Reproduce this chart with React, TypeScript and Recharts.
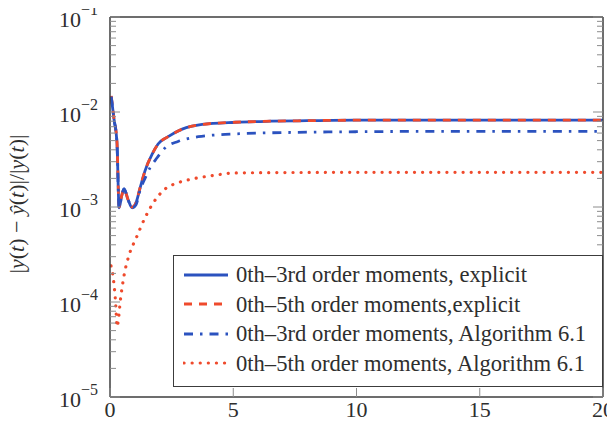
import React from 'react';
import { LineChart, Line, XAxis, YAxis, Legend } from 'recharts';

const FONT = '"Liberation Serif", "Times New Roman", Times, serif';
const BLUE = '#2b52bf';
const RED = '#ef4a2c';
const TEXT = '#2e2e2e';
const TICK = '#8c8c8c';
const BOX = '#3c3c3c';

// ---- tick labels ----
const X_TICKS = [0, 5, 10, 15, 20];
const Y_MAJOR = [1e-5, 1e-4, 1e-3, 1e-2, 1e-1];
const Y_MINOR_MULT = [2, 3, 4, 5, 6, 7, 8, 9];
const Y_TICKS = [
  ...Y_MAJOR,
  ...Y_MAJOR.slice(0, -1).flatMap((d) => Y_MINOR_MULT.map((m) => m * d)),
].sort((a, b) => a - b);

// ---- series names ----
const NAMES = [
  '0th\u20133rd order moments, explicit',
  '0th\u20135th order moments,explicit',
  '0th\u20133rd order moments, Algorithm 6.1',
  '0th\u20135th order moments, Algorithm 6.1',
];

// ---- series values ----
const T_EXPL3 = [0.05, 0.16, 0.28, 0.37, 0.47, 0.57, 0.73, 0.9, 1.05, 1.22, 1.42, 1.71, 1.95, 2.36, 2.93, 3.74, 5.08, 6.5, 8, 10, 13, 16, 20];
const V_EXPL3 = [0.0145, 0.0085, 0.0049, 0.00098, 0.0013, 0.00155, 0.0012, 0.00098, 0.0011, 0.00158, 0.0024, 0.0036, 0.0046, 0.0055, 0.0066, 0.0074, 0.0078, 0.008, 0.0081, 0.0082, 0.0082, 0.0082, 0.0082];

const T_EXPL5 = [0.05, 0.16, 0.28, 0.37, 0.47, 0.57, 0.73, 0.9, 1.05, 1.22, 1.42, 1.71, 1.95, 2.36, 2.93, 3.74, 5.08, 6.5, 8, 10, 13, 16, 20];
const V_EXPL5 = [0.0148, 0.0086, 0.005, 0.001, 0.0013, 0.00156, 0.0012, 0.001, 0.0011, 0.0016, 0.0024, 0.0036, 0.0046, 0.0055, 0.0066, 0.0074, 0.0078, 0.008, 0.0081, 0.0082, 0.0082, 0.0082, 0.0082];

const T_ALG3 = [0.05, 0.16, 0.28, 0.37, 0.47, 0.57, 0.73, 0.9, 1.05, 1.22, 1.42, 1.63, 1.91, 2.24, 2.76, 3.58, 4.67, 6, 7.5, 10, 13, 16, 20];
const V_ALG3 = [0.0145, 0.0085, 0.0049, 0.00098, 0.0013, 0.00155, 0.0012, 0.00098, 0.00105, 0.0015, 0.002, 0.0026, 0.0033, 0.0042, 0.0049, 0.0055, 0.0058, 0.006, 0.0061, 0.0062, 0.00625, 0.00625, 0.00625];

const T_ALG5 = [0.04, 0.16, 0.24, 0.28, 0.45, 0.57, 0.77, 1.06, 1.42, 1.75, 2.24, 2.76, 3.45, 4.27, 5, 6.5, 8, 10, 13, 16, 20];
const V_ALG5 = [2.4e-4, 1.55e-4, 8.7e-5, 5.5e-5, 1.2e-4, 1.9e-4, 3.1e-4, 4.7e-4, 7.7e-4, 1.1e-3, 1.55e-3, 1.8e-3, 2.0e-3, 2.16e-3, 2.28e-3, 2.3e-3, 2.31e-3, 2.32e-3, 2.32e-3, 2.32e-3, 2.32e-3];

const toRows = (ts: number[], vs: number[]) => ts.map((t, i) => ({ t, v: vs[i] }));

const SERIES = [
  { name: NAMES[0], data: toRows(T_EXPL3, V_EXPL3), color: BLUE, dash: undefined as string | undefined, width: 2.8, cap: 'butt' },
  { name: NAMES[1], data: toRows(T_EXPL5, V_EXPL5), color: RED, dash: '8 7', width: 2.8, cap: 'butt' },
  { name: NAMES[2], data: toRows(T_ALG3, V_ALG3), color: BLUE, dash: '9 7 2.5 7', width: 2.8, cap: 'butt' },
  { name: NAMES[3], data: toRows(T_ALG5, V_ALG5), color: RED, dash: '0.1 8', width: 3.2, cap: 'round' },
];

const isMajor = (v: number) => Math.abs(Math.log10(v) - Math.round(Math.log10(v))) < 1e-9;

const LeftTick = (props: any) => {
  const { x, y, payload } = props;
  const v = payload.value;
  const major = isMajor(v);
  return (
    <g>
      <line x1={x} x2={x + (major ? 10 : 6)} y1={y} y2={y} stroke={TICK} strokeWidth={1} />
      {major && (
        <text x={x - 12} y={y + 10} textAnchor="end" fontFamily={FONT} fontSize={22} fill={TEXT}>
          <tspan>10</tspan>
          <tspan dy={-12} fontSize={16}>{'\u2212' + Math.abs(Math.round(Math.log10(v)))}</tspan>
        </text>
      )}
    </g>
  );
};

const RightTick = (props: any) => {
  const { x, y, payload } = props;
  const major = isMajor(payload.value);
  return <line x1={x} x2={x - (major ? 10 : 6)} y1={y} y2={y} stroke={TICK} strokeWidth={1} />;
};

const BottomTick = (props: any) => {
  const { x, y, payload } = props;
  return (
    <g>
      <line x1={x} x2={x} y1={y} y2={y - 9} stroke={TICK} strokeWidth={1} />
      <text x={x} y={y + 20} textAnchor="middle" fontFamily={FONT} fontSize={22} fill={TEXT}>
        {String(payload.value)}
      </text>
    </g>
  );
};

const TopTick = (props: any) => {
  const { x, y } = props;
  return <line x1={x} x2={x} y1={y} y2={y + 9} stroke={TICK} strokeWidth={1} />;
};

const YLabel = (props: any) => {
  const vb = props.viewBox || { x: 0, y: 9, width: 102, height: 380 };
  const cx = vb.x + 16;
  const cy = vb.y + vb.height / 2 - 3;
  return (
    <text
      x={cx}
      y={cy}
      transform={`rotate(-90 ${cx} ${cy})`}
      textAnchor="middle"
      fontFamily={FONT}
      fontSize={22}
      fill={TEXT}
    >
      <tspan>|</tspan>
      <tspan fontStyle="italic">y</tspan>
      <tspan>(</tspan>
      <tspan fontStyle="italic">t</tspan>
      <tspan>{') \u2212 '}</tspan>
      <tspan fontStyle="italic">{'\u0177'}</tspan>
      <tspan>(</tspan>
      <tspan fontStyle="italic">t</tspan>
      <tspan>{')|/|'}</tspan>
      <tspan fontStyle="italic">y</tspan>
      <tspan>(</tspan>
      <tspan fontStyle="italic">t</tspan>
      <tspan>{')|'}</tspan>
    </text>
  );
};

const LegendBox = () => (
  <div
    style={{
      width: 430,
      boxSizing: 'border-box',
      border: `1.5px solid ${BOX}`,
      background: '#fff',
      padding: '4px 0 8px 9px',
      fontFamily: FONT,
      fontSize: 22.6,
      color: TEXT,
    }}
  >
    {SERIES.map((s) => (
      <div key={s.name} style={{ display: 'flex', alignItems: 'center', height: 29.5 }}>
        <svg width={46} height={10} style={{ flex: 'none' }}>
          <line
            x1={1}
            x2={45}
            y1={5}
            y2={5}
            stroke={s.color}
            strokeWidth={s.width}
            strokeDasharray={s.dash}
            strokeLinecap={s.cap as any}
          />
        </svg>
        <span style={{ marginLeft: 7, whiteSpace: 'nowrap', lineHeight: '29.5px' }}>{s.name}</span>
      </div>
    ))}
  </div>
);

export default function App() {
  return (
    <LineChart width={607} height={409} margin={{ top: 8, right: 11, bottom: 1, left: 0 }}>
      <XAxis
        xAxisId="b"
        dataKey="t"
        type="number"
        domain={[0, 20]}
        allowDataOverflow
        ticks={X_TICKS}
        interval={0}
        tickSize={0}
        tickMargin={0}
        tickLine={false}
        tick={BottomTick}
        height={19}
        axisLine={{ stroke: BOX, strokeWidth: 1.5 }}
      />
      <XAxis
        xAxisId="top"
        orientation="top"
        type="number"
        domain={[0, 20]}
        allowDataOverflow
        ticks={X_TICKS}
        interval={0}
        tickSize={0}
        tickMargin={0}
        tickLine={false}
        tick={TopTick}
        height={1}
        axisLine={{ stroke: BOX, strokeWidth: 1.5 }}
      />
      <YAxis
        yAxisId="l"
        type="number"
        scale="log"
        domain={[1e-5, 1e-1]}
        allowDataOverflow
        ticks={Y_TICKS}
        interval={0}
        tickSize={0}
        tickMargin={0}
        tickLine={false}
        tick={LeftTick}
        width={102}
        axisLine={{ stroke: BOX, strokeWidth: 1.5 }}
        label={(p: any) => <YLabel {...p} />}
      />
      <YAxis
        yAxisId="r"
        orientation="right"
        type="number"
        scale="log"
        domain={[1e-5, 1e-1]}
        allowDataOverflow
        ticks={Y_TICKS}
        interval={0}
        tickSize={0}
        tickMargin={0}
        tickLine={false}
        tick={RightTick}
        width={1}
        axisLine={{ stroke: BOX, strokeWidth: 1.5 }}
      />
      <Legend
        layout="vertical"
        align="center"
        verticalAlign="middle"
        content={() => <LegendBox />}
        wrapperStyle={{ left: 165, top: 247, width: 430, height: 'auto' }}
      />
      {SERIES.map((s) => (
        <Line
          key={s.name}
          xAxisId="b"
          yAxisId="l"
          data={s.data}
          dataKey="v"
          name={s.name}
          type="monotone"
          stroke={s.color}
          strokeWidth={s.width}
          strokeDasharray={s.dash}
          strokeLinecap={s.cap as any}
          dot={false}
          activeDot={false}
          isAnimationActive={false}
        />
      ))}
    </LineChart>
  );
}
